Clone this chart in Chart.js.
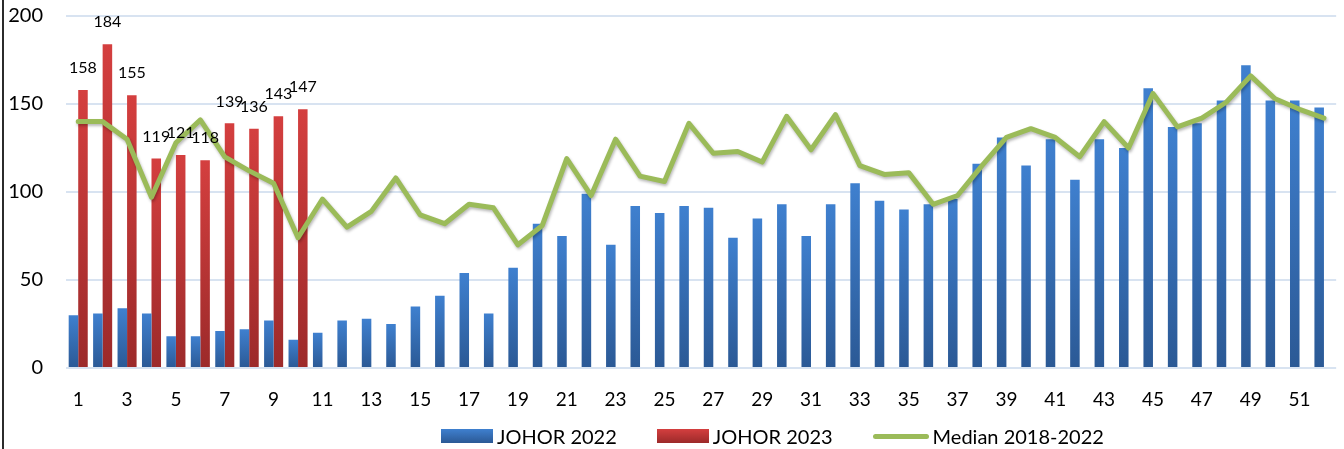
<!DOCTYPE html>
<html>
<head>
<meta charset="utf-8">
<script src="https://cdn.jsdelivr.net/npm/chart.js@4/dist/chart.umd.min.js"></script>
<style>
  html, body { margin: 0; padding: 0; background: #ffffff; }
  #wrap { position: relative; width: 1344px; height: 449px; overflow: hidden; }
  #edge { position: absolute; left: 2px; top: 0; width: 2px; height: 449px; background: #2b2b2b; }
  canvas { position: absolute; left: 0; top: 0; }
  #legend { position: absolute; left: 441px; top: 424px; height: 24px; display: flex; align-items: center;
            font-family: Lato, "Open Sans", sans-serif; font-size: 20px; color: #000; white-space: nowrap; }
  .item { display: flex; align-items: center; margin-right: 40px; }
  .sw { width: 52px; height: 14px; margin-right: 4px; }
  .ln { width: 56px; height: 5px; border-radius: 3px; margin-right: 4px; }
</style>
</head>
<body>
<div id="wrap">
  <canvas id="c" width="1344" height="449"></canvas>
  <div id="edge"></div>
  <div id="legend"></div>
</div>
<script>
// ---- data ----
const weeks = [1,2,3,4,5,6,7,8,9,10,11,12,13,14,15,16,17,18,19,20,21,22,23,24,25,26,
               27,28,29,30,31,32,33,34,35,36,37,38,39,40,41,42,43,44,45,46,47,48,49,50,51,52];

const johor2022 = [30,31,34,31,18,18,21,22,27,16,
                   20,27,28,25,35,41,54,31,57,82,
                   75,99,70,92,88,92,91,74,85,93,
                   75,93,105,95,90,93,96,116,131,115,
                   130,107,130,125,159,137,139,152,172,152,
                   152,148];

const johor2023 = [158,184,155,119,121,118,139,136,143,147];

const median1822 = [140,140,130,97,128,141,120,112,105,74,
                    96,80,89,108,87,82,93,91,70,81,
                    119,98,130,109,106,139,122,123,117,143,
                    124,144,115,110,111,93,98,115,131,136,
                    131,120,140,125,156,137,142,151,166,153,
                    147,142];

const yTicks = [0, 50, 100, 150, 200];

const seriesNames = ['JOHOR 2022', 'JOHOR 2023', 'Median 2018-2022'];

// ---- styling ----
const FONT = 'Lato, "Open Sans", sans-serif';
const BLUE_TOP = '#3f80cf', BLUE_BOT = '#2b5995', BLUE_MID = '#3670b8';
const RED_TOP = '#d43f3f', RED_BOT = '#9c2a2a', RED_MID = '#bf3535';
const GREEN = '#9bbb59';

function barGradient(top, bot, fallback) {
  return (ctx) => {
    const chart = ctx.chart;
    if (ctx.type !== 'data' || !chart.chartArea || ctx.raw == null) return fallback;
    const ys = chart.scales.y;
    const y0 = ys.getPixelForValue(ctx.raw);
    const y1 = ys.getPixelForValue(0);
    if (!isFinite(y0) || !isFinite(y1) || y0 === y1) return fallback;
    const g = chart.ctx.createLinearGradient(0, y0, 0, y1);
    g.addColorStop(0, top);
    g.addColorStop(1, bot);
    return g;
  };
}

const redLabels = {
  id: 'redLabels',
  afterDatasetsDraw(chart) {
    const meta = chart.getDatasetMeta(1);
    const data = chart.data.datasets[1].data;
    const c = chart.ctx;
    c.save();
    c.font = '16px ' + FONT;
    c.fillStyle = '#000';
    c.textAlign = 'center';
    c.textBaseline = 'middle';
    meta.data.forEach((el, i) => {
      const v = data[i];
      if (v == null) return;
      c.fillText(String(v), el.x, el.y - 22);
    });
    c.restore();
  }
};

const lineShadow = {
  id: 'lineShadow',
  beforeDatasetDraw(chart, args) {
    if (args.index === 2) {
      const c = chart.ctx;
      c.save();
      c.shadowColor = 'rgba(0,0,0,0.28)';
      c.shadowBlur = 3;
      c.shadowOffsetX = 1;
      c.shadowOffsetY = 2;
    }
  },
  afterDatasetDraw(chart, args) {
    if (args.index === 2) chart.ctx.restore();
  }
};

// HTML legend built from the chart's datasets
const htmlLegend = {
  id: 'htmlLegend',
  afterUpdate(chart) {
    const box = document.getElementById('legend');
    box.innerHTML = '';
    const swatchCss = [
      'linear-gradient(' + BLUE_TOP + ',' + BLUE_BOT + ')',
      'linear-gradient(' + RED_TOP + ',' + RED_BOT + ')',
      GREEN
    ];
    chart.data.datasets.forEach((ds, i) => {
      const item = document.createElement('div');
      item.className = 'item';
      const sw = document.createElement('span');
      sw.className = ds.type === 'line' ? 'ln' : 'sw';
      sw.style.background = swatchCss[i];
      const tx = document.createElement('span');
      tx.textContent = ds.label;
      item.appendChild(sw);
      item.appendChild(tx);
      box.appendChild(item);
    });
  }
};

new Chart(document.getElementById('c'), {
  type: 'bar',
  data: {
    labels: weeks,
    datasets: [
      {
        type: 'bar',
        label: seriesNames[0],
        data: johor2022,
        backgroundColor: barGradient(BLUE_TOP, BLUE_BOT, BLUE_MID),
        borderWidth: 0,
        categoryPercentage: 0.78,
        barPercentage: 1.0,
        order: 2
      },
      {
        type: 'bar',
        label: seriesNames[1],
        data: johor2023,
        backgroundColor: barGradient(RED_TOP, RED_BOT, RED_MID),
        borderWidth: 0,
        categoryPercentage: 0.78,
        barPercentage: 1.0,
        order: 2
      },
      {
        type: 'line',
        label: seriesNames[2],
        data: median1822,
        borderColor: GREEN,
        backgroundColor: GREEN,
        borderWidth: 5,
        pointRadius: 0,
        pointHoverRadius: 0,
        tension: 0,
        borderJoinStyle: 'round',
        borderCapStyle: 'round',
        fill: false,
        order: 1
      }
    ]
  },
  options: {
    responsive: false,
    animation: false,
    events: [],
    layout: { padding: { top: 16, right: 5, bottom: 27, left: 0 } },
    scales: {
      x: {
        grid: { display: false, drawTicks: false },
        border: { display: false },
        ticks: {
          autoSkip: false,
          maxRotation: 0,
          padding: 20,
          color: '#000',
          font: { family: FONT, size: 19 },
          callback: function (val, idx) { return idx % 2 === 0 ? String(weeks[idx]) : ''; }
        },
        afterFit: (s) => { s.height = 54; }
      },
      y: {
        min: 0,
        max: 200,
        afterBuildTicks: (s) => { s.ticks = yTicks.map(v => ({ value: v })); },
        grid: { color: '#d8e3f1', lineWidth: 2, drawTicks: false },
        border: { display: false },
        ticks: {
          padding: 23,
          color: '#000',
          font: { family: FONT, size: 20 }
        },
        afterFit: (s) => { s.width = 66; s.paddingTop = 0; s.paddingBottom = 0; }
      }
    },
    plugins: {
      tooltip: { enabled: false },
      legend: { display: false }
    }
  },
  plugins: [redLabels, lineShadow, htmlLegend]
});
</script>
</body>
</html>
